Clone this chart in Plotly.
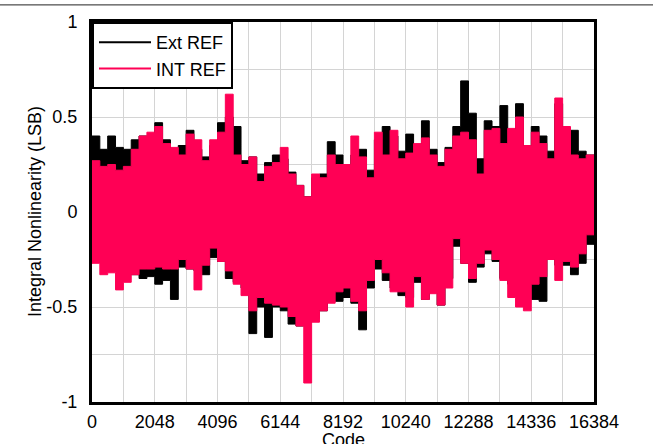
import plotly.graph_objects as go

# INL envelope per 256-code block (upper / lower extremes), codes 0..16384
codes = [256 * k for k in range(65)]

ext_hi = [0.40, 0.33, 0.40, 0.34, 0.33, 0.38, 0.40, 0.36, 0.47, 0.38, 0.33, 0.35,
          0.43, 0.33, 0.29, 0.35, 0.47, 0.50, 0.45, 0.27, 0.29, 0.20, 0.26,
          0.30, 0.28, 0.21, 0.14, 0.08, 0.18, 0.20, 0.37, 0.30, 0.22,
          0.30, 0.33, 0.22, 0.38, 0.45, 0.40, 0.32, 0.41, 0.30, 0.48, 0.33,
          0.26, 0.34, 0.45, 0.69, 0.52, 0.28, 0.48, 0.45, 0.56, 0.30, 0.57,
          0.35, 0.45, 0.40, 0.32, 0.57, 0.42, 0.43, 0.32, 0.30, 0.12]
ext_lo = [-0.22, -0.25, -0.24, -0.28, -0.27, -0.31, -0.33, -0.35, -0.34, -0.38, -0.36, -0.46,
          -0.29, -0.30, -0.31, -0.33, -0.24, -0.26, -0.35, -0.37, -0.40, -0.64, -0.50,
          -0.66, -0.50, -0.52, -0.59, -0.60, -0.58, -0.56, -0.52, -0.47, -0.47,
          -0.45, -0.48, -0.62, -0.40, -0.30, -0.36, -0.40, -0.44, -0.45, -0.37, -0.46,
          -0.36, -0.49, -0.35, -0.18, -0.27, -0.37, -0.29, -0.22, -0.26, -0.35, -0.38,
          -0.40, -0.42, -0.46, -0.47, -0.22, -0.28, -0.28, -0.33, -0.27, -0.17]
int_hi = [0.27, 0.24, 0.25, 0.22, 0.24, 0.33, 0.40, 0.42, 0.45, 0.36, 0.34, 0.30,
          0.41, 0.38, 0.27, 0.38, 0.42, 0.62, 0.30, 0.25, 0.29, 0.16, 0.24,
          0.26, 0.34, 0.20, 0.14, 0.08, 0.20, 0.18, 0.30, 0.25, 0.25,
          0.40, 0.29, 0.18, 0.42, 0.30, 0.43, 0.28, 0.31, 0.36, 0.39, 0.30,
          0.24, 0.33, 0.40, 0.42, 0.38, 0.20, 0.43, 0.44, 0.36, 0.44, 0.50,
          0.35, 0.42, 0.36, 0.28, 0.60, 0.45, 0.30, 0.28, 0.30, 0.05]
int_lo = [-0.18, -0.27, -0.33, -0.32, -0.41, -0.37, -0.33, -0.30, -0.30, -0.29, -0.30, -0.30,
          -0.25, -0.30, -0.41, -0.28, -0.19, -0.26, -0.31, -0.38, -0.44, -0.52, -0.45,
          -0.48, -0.49, -0.50, -0.55, -0.60, -0.90, -0.58, -0.52, -0.48, -0.42,
          -0.40, -0.47, -0.52, -0.36, -0.25, -0.32, -0.42, -0.42, -0.50, -0.34, -0.46,
          -0.43, -0.49, -0.40, -0.14, -0.27, -0.35, -0.27, -0.20, -0.25, -0.36, -0.45,
          -0.50, -0.52, -0.38, -0.34, -0.25, -0.36, -0.26, -0.29, -0.22, -0.12]

series = [("Ext REF", ext_hi, ext_lo, "#000000"),
          ("INT REF", int_hi, int_lo, "#ff0055")]

x_ticks = [0, 2048, 4096, 6144, 8192, 10240, 12288, 14336, 16384]
x_tick_text = [str(v) for v in x_ticks]
y_ticks = [-1, -0.5, 0, 0.5, 1]
y_tick_text = ["-1", "-0.5", "0", "0.5", "1"]

x_title = "Code"
y_title = "Integral Nonlinearity (LSB)"

fig = go.Figure()

for name, hi, lo, color in series:
    # filled band between the upper and lower extremes of each 256-code block
    fig.add_trace(go.Scatter(
        x=codes + codes[::-1],
        y=hi + lo[::-1],
        fill="toself",
        fillcolor=color,
        mode="lines",
        line=dict(color=color, width=1, shape="hv"),
        hoverinfo="skip",
        showlegend=False,
    ))

for name, hi, lo, color in series:
    fig.add_trace(go.Scatter(
        x=[None], y=[None], mode="lines", name=name,
        line=dict(color=color, width=2),
    ))

font_family = "Liberation Sans, Arial, sans-serif"
grid = "#d4d4d4"

fig.update_layout(
    width=653, height=444,
    margin=dict(l=92, r=59, t=22, b=42),
    paper_bgcolor="white", plot_bgcolor="white",
    font=dict(family=font_family, size=18, color="#000000"),
    showlegend=True,
    legend=dict(
        x=0, y=1, xanchor="left", yanchor="top",
        bgcolor="white", bordercolor="#000000", borderwidth=2,
        font=dict(size=18), itemwidth=52, tracegroupgap=0,
    ),
    xaxis=dict(
        range=[0, 16384], tickvals=x_ticks, ticktext=x_tick_text,
        showgrid=True, gridcolor=grid, gridwidth=1,
        minor=dict(dtick=1024, tick0=0, showgrid=True, gridcolor=grid, gridwidth=1),
        showline=True, linecolor="#000000", linewidth=3, mirror=True,
        ticks="", ticklabelstandoff=1, zeroline=False, automargin=False,
    ),
    yaxis=dict(
        range=[-1, 1], tickvals=y_ticks, ticktext=y_tick_text,
        showgrid=True, gridcolor=grid, gridwidth=1,
        minor=dict(dtick=0.25, tick0=0, showgrid=True, gridcolor=grid, gridwidth=1),
        showline=True, linecolor="#000000", linewidth=3, mirror=True,
        ticks="", ticklabelstandoff=8, zeroline=False, automargin=False,
    ),
    annotations=[
        dict(text=x_title, xref="paper", yref="paper", x=0.5, y=-26 / 380,
             xanchor="center", yanchor="top", showarrow=False),
        dict(text=y_title, xref="paper", yref="paper", x=-57 / 502, y=0.5,
             xanchor="center", yanchor="middle", textangle=-90, showarrow=False),
    ],
    shapes=[dict(
        type="line", xref="paper", yref="paper",
        x0=-92 / 502, x1=561 / 502, y0=1.045, y1=1.045,
        line=dict(color="#222222", width=1),
    )],
)

fig.write_html("out.html")
